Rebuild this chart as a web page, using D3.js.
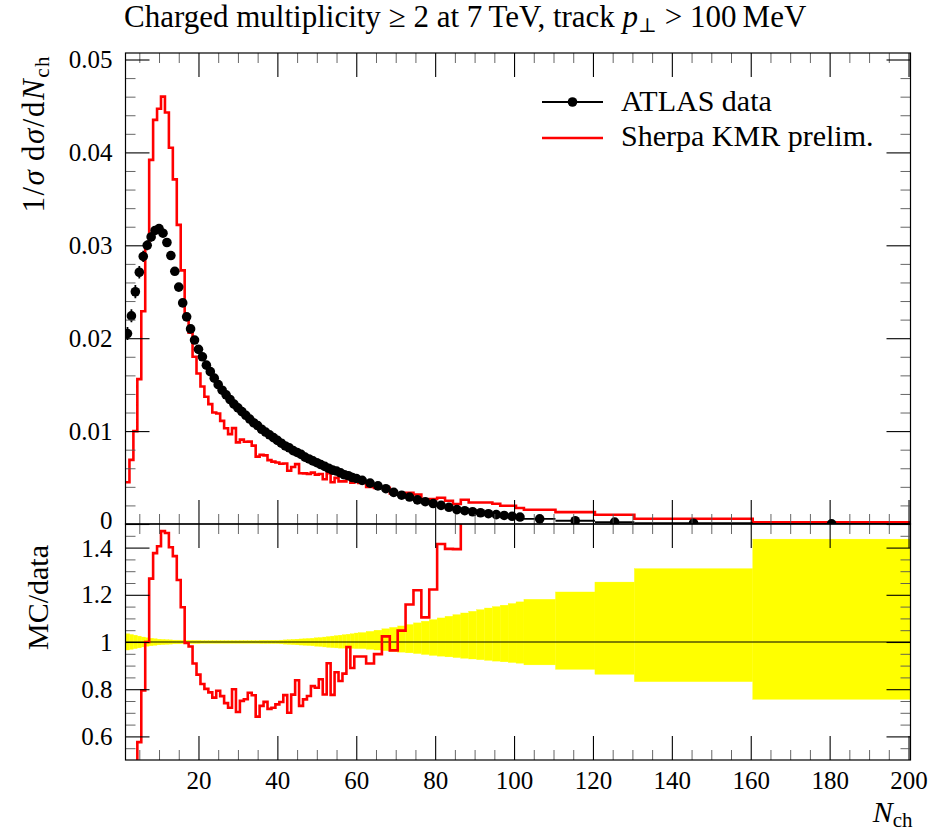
<!DOCTYPE html>
<html lang="en">
<head>
<meta charset="UTF-8">
<title>Charged multiplicity at 7 TeV</title>
<script src="https://d3js.org/d3.v7.min.js"></script>
<style>
    body {
        margin: 0;
        background: #fff;
    }
    svg, svg text {
        font-family: "Liberation Serif", "DejaVu Serif", serif;
    }
</style>
</head>
<body>
<div id="chart"></div>
<script>
    // bin edges in N_ch (unit bins to 60.5, then 2-wide, then wide tail bins)
    var binEdges = [1.5, 2.5, 3.5, 4.5, 5.5, 6.5, 7.5, 8.5, 9.5, 10.5,
        11.5, 12.5, 13.5, 14.5, 15.5, 16.5, 17.5, 18.5, 19.5, 20.5,
        21.5, 22.5, 23.5, 24.5, 25.5, 26.5, 27.5, 28.5, 29.5, 30.5,
        31.5, 32.5, 33.5, 34.5, 35.5, 36.5, 37.5, 38.5, 39.5, 40.5,
        41.5, 42.5, 43.5, 44.5, 45.5, 46.5, 47.5, 48.5, 49.5, 50.5,
        51.5, 52.5, 53.5, 54.5, 55.5, 56.5, 57.5, 58.5, 59.5, 60.5,
        62.5, 64.5, 66.5, 68.5, 70.5, 72.5, 74.5, 76.5, 78.5, 80.5,
        82.5, 84.5, 86.5, 88.5, 90.5, 92.5, 94.5, 96.5, 98.5, 100.5,
        102.5, 110.5, 120.5, 130.5, 160.5, 200.5];

    // ATLAS data, 1/sigma dsigma/dNch
    var dataValues = [0.0205, 0.0224, 0.0250, 0.0271, 0.0288, 0.0300, 0.0309, 0.0316, 0.0318, 0.0313,
        0.0303, 0.0289, 0.0272, 0.0255, 0.0238, 0.0223, 0.0210, 0.0198, 0.0188, 0.0180,
        0.0171, 0.0164, 0.0157, 0.0150, 0.0144, 0.0139, 0.0134, 0.0129, 0.0125, 0.0121,
        0.0117, 0.0113, 0.0109, 0.0106, 0.0102, 0.0099, 0.0096, 0.0093, 0.0090, 0.0087,
        0.0084, 0.0082, 0.0079, 0.0077, 0.0075, 0.0072, 0.0070, 0.0068, 0.0066, 0.0064,
        0.0062, 0.0060, 0.0058, 0.0057, 0.0055, 0.0053, 0.0052, 0.0050, 0.0049,
        0.0047, 0.0044, 0.0041, 0.0038, 0.0034, 0.0031, 0.0029, 0.0026, 0.0024, 0.0022,
        0.0020, 0.0018, 0.00155, 0.00143, 0.00132, 0.00121, 0.00111, 0.00101, 0.00092, 0.00083,
        0.00075,
        0.00055, 0.00035, 0.0002, 0.00008, 0.00002];

    // Sherpa KMR prelim.
    var mcValues = [0.0045, 0.0069, 0.0100, 0.0156, 0.0229, 0.0300, 0.0392, 0.0435, 0.0447, 0.0460,
        0.0443, 0.0405, 0.0371, 0.0322, 0.0273, 0.0222, 0.0206, 0.0180, 0.0162, 0.0148,
        0.0137, 0.0129, 0.0120, 0.0119, 0.0111, 0.0103, 0.00967, 0.01032, 0.00879, 0.00908,
        0.00886, 0.00887, 0.00844, 0.00725, 0.00744, 0.00739, 0.00688, 0.00671, 0.00662, 0.00649,
        0.00651, 0.00574, 0.00614, 0.00645, 0.00547, 0.00545, 0.00540, 0.00553, 0.00532, 0.00539,
        0.00482, 0.00546, 0.00450, 0.00497, 0.00459, 0.00459, 0.00509, 0.00445, 0.00460,
        0.00441, 0.00400, 0.00389, 0.00389, 0.00328, 0.00325, 0.00336, 0.00317, 0.00265, 0.00269,
        0.00283, 0.00251, 0.00216, 0.00261, 0.00232, 0.00232, 0.00232, 0.00218, 0.00197, 0.00197,
        0.00172,
        0.00154, 0.00128, 0.0010, 0.00057, 0.00017];

    // data uncertainty band in the ratio (upper / lower edge)
    var bandHi = [1.035, 1.032, 1.029, 1.025, 1.021, 1.018, 1.016, 1.014, 1.012, 1.011,
        1.010, 1.009, 1.008, 1.008, 1.007, 1.007, 1.007, 1.007, 1.007, 1.006,
        1.006, 1.006, 1.006, 1.006, 1.006, 1.006, 1.006, 1.006, 1.006, 1.006,
        1.006, 1.006, 1.006, 1.006, 1.007, 1.007, 1.007, 1.007, 1.007, 1.008,
        1.009, 1.010, 1.011, 1.012, 1.013, 1.014, 1.015, 1.016, 1.018, 1.019,
        1.021, 1.023, 1.025, 1.027, 1.029, 1.031, 1.033, 1.035, 1.038,
        1.040, 1.045, 1.050, 1.056, 1.062, 1.068, 1.074, 1.081, 1.088, 1.095,
        1.102, 1.109, 1.116, 1.123, 1.130, 1.137, 1.144, 1.150, 1.156, 1.163,
        1.170,
        1.181, 1.212, 1.254, 1.311, 1.436];
    var bandLo = [0.966, 0.969, 0.972, 0.975, 0.979, 0.982, 0.984, 0.986, 0.988, 0.989,
        0.990, 0.991, 0.992, 0.992, 0.993, 0.993, 0.993, 0.993, 0.993, 0.994,
        0.994, 0.994, 0.994, 0.994, 0.994, 0.994, 0.994, 0.994, 0.994, 0.994,
        0.994, 0.994, 0.994, 0.994, 0.993, 0.993, 0.993, 0.993, 0.993, 0.992,
        0.991, 0.990, 0.989, 0.988, 0.987, 0.986, 0.985, 0.984, 0.982, 0.981,
        0.979, 0.977, 0.976, 0.975, 0.974, 0.974, 0.973, 0.973, 0.972,
        0.972, 0.969, 0.966, 0.963, 0.960, 0.957, 0.954, 0.951, 0.947, 0.943,
        0.940, 0.937, 0.934, 0.931, 0.928, 0.925, 0.922, 0.919, 0.916, 0.913,
        0.910,
        0.903, 0.884, 0.863, 0.832, 0.757];

    var xTicks = [20, 40, 60, 80, 100, 120, 140, 160, 180, 200];
    var yTicksMain = [0, 0.01, 0.02, 0.03, 0.04, 0.05];
    var yTicksRatio = [0.6, 0.8, 1, 1.2, 1.4];
    var legendNames = ["ATLAS data", "Sherpa KMR prelim."];

    var width = 935, height = 835;
    var left = 125.5, right = 910.5;
    var mainTop = 53, mainBottom = 524, ratioBottom = 760;
    var serif = "'Liberation Serif', 'DejaVu Serif', serif";

    var bins = dataValues.map(function (d, i) {
        var lo = binEdges[i], hi = binEdges[i + 1];
        return {
            lo: lo, hi: hi, mid: (lo + hi) / 2,
            data: d, mc: mcValues[i],
            ratio: mcValues[i] / d,
            bandHi: bandHi[i], bandLo: bandLo[i]
        };
    });

    var x = d3.scaleLinear().domain([1.5, 200.5]).range([left, right]);
    var y = d3.scaleLinear().domain([0, 0.0507]).range([mainBottom, mainTop]);
    var yr = d3.scaleLinear().domain([0.5, 1.5]).range([ratioBottom, mainBottom]);

    var svg = d3.select("#chart").append("svg")
        .attr("width", width)
        .attr("height", height)
        .style("font-family", serif);

    var defs = svg.append("defs");
    defs.append("clipPath").attr("id", "clipMain")
        .append("rect").attr("x", left).attr("y", mainTop)
        .attr("width", right - left).attr("height", mainBottom - mainTop);
    defs.append("clipPath").attr("id", "clipRatio")
        .append("rect").attr("x", left).attr("y", mainBottom)
        .attr("width", right - left).attr("height", ratioBottom - mainBottom);

    // ---- ratio panel: band, unity line, ratio histogram
    var ratioG = svg.append("g").attr("clip-path", "url(#clipRatio)");

    ratioG.selectAll("rect.band")
        .data(bins)
        .enter().append("rect")
        .attr("class", "band")
        .attr("x", function (d) { return x(d.lo); })
        .attr("width", function (d) { return x(d.hi) - x(d.lo); })
        .attr("y", function (d) { return yr(d.bandHi); })
        .attr("height", function (d) { return yr(d.bandLo) - yr(d.bandHi); })
        .attr("fill", "#ffff00")
        .attr("stroke", "#ffff00")
        .attr("stroke-width", 0.3);

    ratioG.append("line")
        .attr("x1", left).attr("x2", right)
        .attr("y1", yr(1)).attr("y2", yr(1))
        .attr("stroke", "black").attr("stroke-width", 1.2);

    var stepPts = function (key) {
        var pts = bins.map(function (d) { return [d.lo, d[key]]; });
        pts.push([bins[bins.length - 1].hi, bins[bins.length - 1][key]]);
        return pts;
    };

    var ratioLine = d3.line()
        .x(function (d) { return x(d[0]); })
        .y(function (d) { return yr(Math.min(Math.max(d[1], 0.3), 2)); })
        .curve(d3.curveStepAfter);

    ratioG.append("path")
        .datum(stepPts("ratio"))
        .attr("d", ratioLine)
        .attr("fill", "none")
        .attr("stroke", "#ff0000")
        .attr("stroke-width", 2.6);

    // ---- main panel
    var mainG = svg.append("g").attr("clip-path", "url(#clipMain)");

    var mcLine = d3.line()
        .x(function (d) { return x(d[0]); })
        .y(function (d) { return y(d[1]); })
        .curve(d3.curveStepAfter);

    mainG.append("path")
        .datum(stepPts("mc"))
        .attr("d", mcLine)
        .attr("fill", "none")
        .attr("stroke", "#ff0000")
        .attr("stroke-width", 2.6);

    // data error bars
    mainG.selectAll("line.xerr")
        .data(bins)
        .enter().append("line")
        .attr("class", "xerr")
        .attr("x1", function (d) { return x(d.lo); })
        .attr("x2", function (d) { return x(d.hi); })
        .attr("y1", function (d) { return y(d.data); })
        .attr("y2", function (d) { return y(d.data); })
        .attr("stroke", "black").attr("stroke-width", 1.8);

    mainG.selectAll("line.yerr")
        .data(bins)
        .enter().append("line")
        .attr("class", "yerr")
        .attr("x1", function (d) { return x(d.mid); })
        .attr("x2", function (d) { return x(d.mid); })
        .attr("y1", function (d) { return y(d.data * d.bandHi); })
        .attr("y2", function (d) { return y(d.data * d.bandLo); })
        .attr("stroke", "black").attr("stroke-width", 1.8);

    mainG.selectAll("circle.pt")
        .data(bins)
        .enter().append("circle")
        .attr("class", "pt")
        .attr("cx", function (d) { return x(d.mid); })
        .attr("cy", function (d) { return y(d.data); })
        .attr("r", 4.8)
        .attr("fill", "black");

    // ---- axes (ticks drawn inward on all sides)
    var minorX = d3.range(5, 201, 5).filter(function (v) { return v % 20 !== 0; });
    var minorMain = d3.range(0, 0.0507, 0.002).filter(function (v) { return Math.abs(v * 100 - Math.round(v * 100)) > 1e-6; });
    var minorRatio = d3.range(0.55, 1.5, 0.05).filter(function (v) { return Math.abs(v * 5 - Math.round(v * 5)) > 1e-6; });

    function styleAxis(g, minor) {
        g.attr("font-family", null).attr("font-size", null);
        g.select(".domain").remove();
        g.selectAll(".tick line")
            .attr("stroke", minor ? "#555" : "black")
            .attr("stroke-width", minor ? 0.9 : 1.1);
        g.selectAll("text")
            .attr("fill", "black")
            .attr("font-family", serif)
            .style("font-family", serif)
            .style("font-size", "25px");
    }

    function axisSet(axisFn, pos, scale, major, minor, labels, pad) {
        var gMaj = svg.append("g").attr("transform", pos)
            .call(axisFn(scale).tickValues(major).tickSize(-24).tickPadding(pad || 3)
                .tickFormat(labels ? d3.format("") : ""));
        styleAxis(gMaj, false);
        var gMin = svg.append("g").attr("transform", pos)
            .call(axisFn(scale).tickValues(minor).tickSize(-10).tickFormat(""));
        styleAxis(gMin, true);
        return gMaj;
    }

    // main panel
    axisSet(d3.axisTop, "translate(0," + mainTop + ")", x, xTicks, minorX, false);
    axisSet(d3.axisBottom, "translate(0," + mainBottom + ")", x, xTicks, minorX, false);
    var mainLeft = axisSet(d3.axisLeft, "translate(" + left + ",0)", y, yTicksMain, minorMain, true, 13);
    axisSet(d3.axisRight, "translate(" + right + ",0)", y, yTicksMain, minorMain, false);

    // ratio panel
    axisSet(d3.axisTop, "translate(0," + mainBottom + ")", x, xTicks, minorX, false);
    axisSet(d3.axisBottom, "translate(0," + ratioBottom + ")", x, xTicks, minorX, true, 11);
    var ratioLeft = axisSet(d3.axisLeft, "translate(" + left + ",0)", yr, yTicksRatio, minorRatio, true, 13);
    axisSet(d3.axisRight, "translate(" + right + ",0)", yr, yTicksRatio, minorRatio, false);

    // the "0" and "1.4" labels sit right at the panel join: keep them apart
    mainLeft.selectAll(".tick text").filter(function (d) { return d === 0; }).attr("dy", "0.18em");
    ratioLeft.selectAll(".tick text").filter(function (d) { return d === 1.4; }).attr("dy", "0.36em");

    // frames
    [[mainTop, mainBottom], [mainBottom, ratioBottom]].forEach(function (p) {
        svg.append("rect")
            .attr("x", left).attr("y", p[0])
            .attr("width", right - left).attr("height", p[1] - p[0])
            .attr("fill", "none")
            .attr("stroke", "black")
            .attr("stroke-width", 1.2);
    });

    // ---- texts
    var title = svg.append("text")
        .attr("x", 124).attr("y", 27)
        .attr("font-size", 31);
    title.append("tspan").text("Charged multiplicity \u2265 2 at 7\u2009TeV, track ");
    title.append("tspan").attr("font-style", "italic").text("p");
    title.append("tspan").attr("font-size", 20).attr("dy", 5).text("\u22A5");
    title.append("tspan").attr("dy", -5).text(" > 100\u2009MeV");

    var yLab = svg.append("text")
        .attr("transform", "translate(44,55) rotate(-90)")
        .attr("text-anchor", "end")
        .attr("font-size", 31)
        .attr("letter-spacing", 1.5);
    yLab.append("tspan").text("1/");
    yLab.append("tspan").attr("font-style", "italic").text("\u03C3");
    yLab.append("tspan").text("\u2009d");
    yLab.append("tspan").attr("font-style", "italic").text("\u03C3");
    yLab.append("tspan").text("/d");
    yLab.append("tspan").attr("font-style", "italic").text("N");
    yLab.append("tspan").attr("font-size", 21).attr("dy", 5).text("ch");

    svg.append("text")
        .attr("transform", "translate(48,545) rotate(-90)")
        .attr("text-anchor", "end")
        .attr("font-size", 30)
        .text("MC/data");

    var xLab = svg.append("text")
        .attr("x", right + 2).attr("y", 822)
        .attr("text-anchor", "end")
        .attr("font-size", 30);
    xLab.append("tspan").attr("font-style", "italic").text("N");
    xLab.append("tspan").attr("font-size", 21).attr("dy", 5).text("ch");

    // ---- legend
    var legend = svg.append("g");
    var lx0 = 542, lx1 = 603;
    legend.append("line")
        .attr("x1", lx0).attr("x2", lx1).attr("y1", 102).attr("y2", 102)
        .attr("stroke", "black").attr("stroke-width", 1.8);
    legend.append("circle")
        .attr("cx", (lx0 + lx1) / 2).attr("cy", 102).attr("r", 4.8)
        .attr("fill", "black");
    legend.append("line")
        .attr("x1", lx0).attr("x2", lx1).attr("y1", 138).attr("y2", 138)
        .attr("stroke", "#ff0000").attr("stroke-width", 2.6);
    legend.selectAll("text")
        .data(legendNames)
        .enter().append("text")
        .attr("x", 621)
        .attr("y", function (d, i) { return 111 + i * 35; })
        .attr("font-size", 30)
        .text(function (d) { return d; });
</script>
</body>
</html>
